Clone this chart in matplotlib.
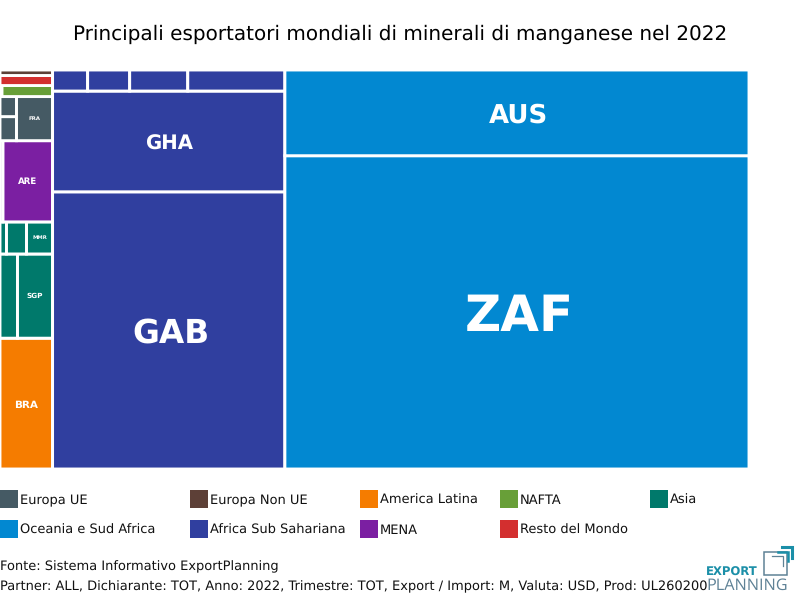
import matplotlib
matplotlib.use("Agg")
import matplotlib.pyplot as plt
from matplotlib.patches import Rectangle

plt.rcParams["text.hinting"] = "no_hinting"

# ---- data (relative export values) ----
RIGHT_CODES = ["ZAF", "AUS"]
RIGHT_VALUES = [1448.4, 396.3]
MID_CODES = ["GAB", "GHA"]
MID_VALUES = [641.5, 233.2]
MID_TOP_VALUES = [7.35, 8.82, 12.18, 20.37]
BRA_VALUE = [68.5]
SGP_ROW_VALUES = [14.7, 29.4]
MMR_ROW_VALUES = [2.08, 6.4, 8.32]
ARE_ROW_VALUES = [2.43, 40.1]
FRA_SMALL_VALUES = [3.96, 3.3]
FRA_VALUE = [15.84]
NAFTA_VALUES = [0.22, 5.55]
REST_VALUE = [5.25]
EU_NON_VALUE = [2.89]

LEGEND_ROW1 = ["Europa UE", "Europa Non UE", "America Latina", "NAFTA", "Asia"]
LEGEND_ROW2 = ["Oceania e Sud Africa", "Africa Sub Sahariana", "MENA", "Resto del Mondo"]

C = {"eu": "#455A64", "noneu": "#5D4037", "lat": "#F57C00", "nafta": "#689F38",
     "asia": "#00796B", "oce": "#0288D1", "afr": "#303F9F", "mena": "#7B1FA2", "row": "#D32F2F"}
LEGEND_COL1 = [C["eu"], C["noneu"], C["lat"], C["nafta"], C["asia"]]
LEGEND_COL2 = [C["oce"], C["afr"], C["mena"], C["row"]]
LABEL_SIZE = {"ZAF": 36, "GAB": 23.6, "AUS": 18.7, "GHA": 14.2, "BRA": 7.5, "ARE": 6.2,
              "SGP": 5.2, "MMR": 3.9, "FRA": 3.9}


def leaf(v, color, label=None):
    return {"v": v, "c": color, "l": label}


def group(direction, kids):
    return {"d": direction, "kids": kids, "v": sum(k["v"] for k in kids)}


def row(values, color, labels=None):
    labels = labels or [None] * len(values)
    return group("x", [leaf(v, color, l) for v, l in zip(values, labels)])


right = group("y", [leaf(RIGHT_VALUES[0], C["oce"], RIGHT_CODES[0]),
                    leaf(RIGHT_VALUES[1], C["oce"], RIGHT_CODES[1])])
mid = group("y", [leaf(MID_VALUES[0], C["afr"], MID_CODES[0]),
                  leaf(MID_VALUES[1], C["afr"], MID_CODES[1]),
                  row(MID_TOP_VALUES, C["afr"])])
left = group("y", [
    leaf(BRA_VALUE[0], C["lat"], "BRA"),
    row(SGP_ROW_VALUES, C["asia"], [None, "SGP"]),
    row(MMR_ROW_VALUES, C["asia"], [None, None, "MMR"]),
    row(ARE_ROW_VALUES, C["mena"], [None, "ARE"]),
    group("x", [group("y", [leaf(v, C["eu"]) for v in FRA_SMALL_VALUES]),
                leaf(FRA_VALUE[0], C["eu"], "FRA")]),
    row(NAFTA_VALUES, C["nafta"]),
    leaf(REST_VALUE[0], C["row"]),
    leaf(EU_NON_VALUE[0], C["noneu"]),
])
root = group("x", [left, mid, right])

fig = plt.figure(figsize=(8, 6), dpi=100)
W, H = 800.0, 600.0

page = fig.add_axes([0, 0, 1, 1])
page.set_xlim(0, W)
page.set_ylim(H, 0)
page.axis("off")

AX_W, AX_H = 749.0, 399.0
ax = fig.add_axes([0, 1 - 469 / H, AX_W / W, AX_H / H])
ax.set_xlim(0, 1)
ax.set_ylim(0, 1)
ax.axis("off")


def draw(node, x, y, w, h):
    if "kids" in node:
        pos = 0.0
        for k in node["kids"]:
            frac = k["v"] / node["v"]
            if node["d"] == "x":
                draw(k, x + pos * w, y, frac * w, h)
            else:
                draw(k, x, y + pos * h, w, frac * h)
            pos += frac
        return
    ax.add_patch(Rectangle((x, y), w, h, facecolor=node["c"], edgecolor="white",
                           linewidth=2.1, clip_on=True, snap=False))
    if node["l"]:
        size = LABEL_SIZE[node["l"]]
        xoff = 2.0 if size > 18 else 0.0
        yoff = 0.0 if size > 18 else (-1.0 if size > 7 else 1.0)
        ax.text(x + w / 2 + xoff / AX_W, y + h / 2 + yoff / AX_H, node["l"], color="white",
                fontweight="bold", ha="center", va="center_baseline", fontsize=size)


draw(root, 0, 0, 1, 1)

page.text(400.5, 39.5, "Principali esportatori mondiali di minerali di manganese nel 2022",
          ha="center", va="baseline", fontsize=14.44, color="black")

# legend
X1 = [0, 190, 360, 500, 650]
X2 = [0, 190, 360, 500]
for xs, labels, cols, yy in [(X1, LEGEND_ROW1, LEGEND_COL1, 490), (X2, LEGEND_ROW2, LEGEND_COL2, 520)]:
    for xp, lab, col in zip(xs, labels, cols):
        page.add_patch(Rectangle((xp, yy), 18, 18, facecolor=col, edgecolor="none"))
        page.text(xp + 20, yy + 14.3, lab, ha="left", va="baseline", fontsize=9.36, color="#111111")

page.text(0, 570.3, "Fonte: Sistema Informativo ExportPlanning", ha="left", va="baseline",
          fontsize=9.36, color="#111111")
page.text(0, 590.3, "Partner: ALL, Dichiarante: TOT, Anno: 2022, Trimestre: TOT, Export / Import: M, Valuta: USD, Prod: UL260200",
          ha="left", va="baseline", fontsize=9.36, color="#111111")

# logo
TEAL = "#1B8FA8"
SLATE = "#5F8296"
page.text(706, 576, "EXPORT", ha="left", va="baseline", fontsize=8.4, fontweight="bold", color=TEAL)
page.text(706, 590, "PLANNING", ha="left", va="baseline", fontsize=11.7, color=SLATE, fontfamily="Open Sans")
page.add_patch(Rectangle((764, 552), 23, 23, facecolor="none", edgecolor=SLATE, linewidth=1.1))
page.plot([772, 783, 783], [556, 556, 566], color=SLATE, lw=0.9, solid_joinstyle="miter")
page.plot([778, 787.5, 787.5], [551.5, 551.5, 561], color=TEAL, lw=1.8, solid_joinstyle="miter")
page.plot([782, 792, 792], [547, 547, 558], color=TEAL, lw=2.2, solid_joinstyle="miter")

fig.savefig("out.png", dpi=100)
